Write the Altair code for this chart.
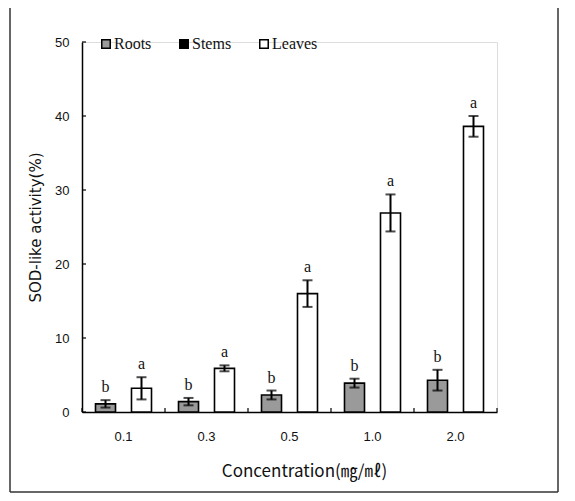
import altair as alt
import pandas as pd

concs = ["0.1", "0.3", "0.5", "1.0", "2.0"]
roots = [1.1, 1.4, 2.3, 3.9, 4.3]
roots_err = [0.5, 0.5, 0.6, 0.6, 1.4]
roots_sig = ["b", "b", "b", "b", "b"]
leaves = [3.2, 5.9, 16.0, 26.9, 38.6]
leaves_err = [1.5, 0.4, 1.8, 2.5, 1.4]
leaves_sig = ["a", "a", "a", "a", "a"]
organs = ["Roots", "Stems", "Leaves"]
organ_colors = ["#9a9a9a", "#000000", "#ffffff"]
y_ticks = [0, 10, 20, 30, 40, 50]

rows = []
for c, m, e, s in zip(concs, roots, roots_err, roots_sig):
    rows.append({"conc": c, "organ": "Roots", "mean": m, "lo": m - e, "hi": m + e, "sig": s})
for c, m, e, s in zip(concs, leaves, leaves_err, leaves_sig):
    rows.append({"conc": c, "organ": "Leaves", "mean": m, "lo": m - e, "hi": m + e, "sig": s})
df = pd.DataFrame(rows)

W, H = 415, 370

x_enc = alt.X("conc:N", sort=concs,
              scale=alt.Scale(paddingInner=0, paddingOuter=0),
              axis=alt.Axis(title="Concentration(㎎/㎖)", labelAngle=0, ticks=False,
                            labelPadding=18, labelFont="Liberation Sans", labelFontSize=13,
                            labelColor="#111", domainColor="#000", domainWidth=1.5,
                            titleFont="Noto Sans CJK KR", titleFontSize=17, titleFontWeight="normal",
                            titleColor="#111", titleX=222, titleY=59, titleBaseline="middle",
                            titleAlign="center"))
xo_enc = alt.XOffset("organ:N", sort=["Roots", "Leaves"],
                     scale=alt.Scale(domain=["Roots", "Leaves"], paddingInner=0.444, paddingOuter=0.375))
y_enc = alt.Y("mean:Q", scale=alt.Scale(domain=[0, 50], nice=False),
              axis=alt.Axis(title="SOD-like activity(%)", values=y_ticks, ticks=False, grid=False,
                            labelPadding=13, labelFont="Liberation Sans", labelFontSize=13,
                            labelColor="#111", domainColor="#000", domainWidth=1.5,
                            titleFont="DejaVu Sans", titleFontSize=15, titleFontWeight="normal",
                            titleColor="#111", titleAngle=270, titleX=-47, titleY=H / 2,
                            titleBaseline="middle", titleAlign="center"))

bars = alt.Chart(df).mark_bar(stroke="#000", strokeWidth=1.6).encode(
    x=x_enc, xOffset=xo_enc, y=y_enc,
    fill=alt.Fill("organ:N", scale=alt.Scale(domain=organs, range=organ_colors),
                  legend=alt.Legend(title=None, orient="none", legendX=16, legendY=-6,
                                    direction="horizontal", columnPadding=24,
                                    symbolType="square", symbolSize=72,
                                    symbolStrokeColor="#000", symbolStrokeWidth=1.5,
                                    labelFont="Liberation Serif", labelFontSize=16,
                                    labelColor="#111", labelOffset=0, padding=0)),
)

err = alt.Chart(df).mark_rule(color="#000", strokeWidth=2).encode(
    x=alt.X("conc:N", sort=concs), xOffset=xo_enc, y="lo:Q", y2="hi:Q")
cap_hi = alt.Chart(df).mark_tick(color="#000", thickness=2, size=10).encode(
    x=alt.X("conc:N", sort=concs), xOffset=xo_enc, y="hi:Q")
cap_lo = alt.Chart(df).mark_tick(color="#000", thickness=2, size=10).encode(
    x=alt.X("conc:N", sort=concs), xOffset=xo_enc, y="lo:Q")
labels = alt.Chart(df).mark_text(font="Liberation Serif", fontSize=16, dy=-13,
                                 baseline="middle", color="#111").encode(
    x=alt.X("conc:N", sort=concs), xOffset=xo_enc, y="hi:Q", text="sig:N")

ytick_df = pd.DataFrame({"v": y_ticks})
yticks = alt.Chart(ytick_df).mark_rule(color="#000", strokeWidth=1.2).encode(
    y="v:Q", x=alt.value(0), x2=alt.value(4))

xtick_df = pd.DataFrame({"conc": concs})
xticks = alt.Chart(xtick_df).mark_rule(color="#000", strokeWidth=1.2).encode(
    x=alt.X("conc:N", sort=concs, bandPosition=0), y=alt.value(H - 4), y2=alt.value(H))
one = pd.DataFrame({"k": [0]})
xtick_end = alt.Chart(one).mark_rule(color="#000", strokeWidth=1.2).encode(
    x=alt.value(W), y=alt.value(H - 4), y2=alt.value(H))

frame_left = alt.Chart(one).mark_rule(color="#333", strokeWidth=1.5).encode(
    x=alt.value(-72), y=alt.value(-36), y2=alt.value(450))
frame_right = alt.Chart(one).mark_rule(color="#333", strokeWidth=1.5).encode(
    x=alt.value(476), y=alt.value(-36), y2=alt.value(450))
frame_top = alt.Chart(one).mark_rule(color="#333", strokeWidth=1.5).encode(
    x=alt.value(-72), x2=alt.value(476), y=alt.value(-36))
frame_bottom = alt.Chart(one).mark_rule(color="#333", strokeWidth=1.5).encode(
    x=alt.value(-72), x2=alt.value(476), y=alt.value(450))

chart = alt.layer(
    bars, err, cap_hi, cap_lo, labels, yticks, xticks, xtick_end,
    frame_left, frame_right, frame_top, frame_bottom
).properties(
    width=W, height=H,
    autosize=alt.AutoSizeParams(type="none"),
    padding={"left": 74, "top": 34, "right": 70, "bottom": 81},
).configure_view(stroke=None).configure(background="white")

chart.save("out.html", embed_options={"renderer": "svg", "actions": False})
